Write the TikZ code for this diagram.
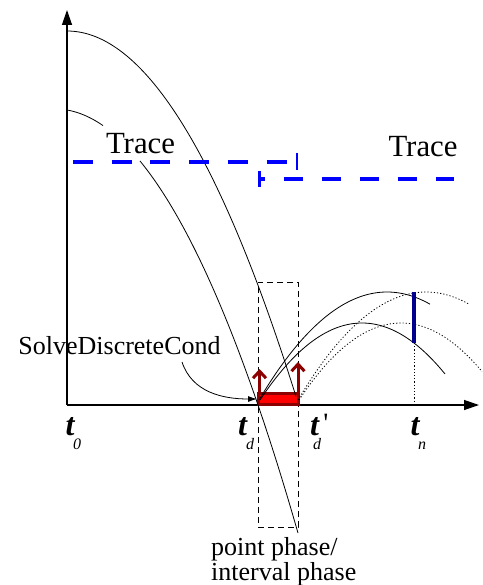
\documentclass[tikz,border=0pt]{standalone}
\usepackage{fontspec}
\setmainfont{Liberation Serif}
\usetikzlibrary{arrows.meta}
\definecolor{darkred}{RGB}{140,0,0}
\definecolor{navyline}{RGB}{0,0,140}
\definecolor{traceblue}{RGB}{0,0,255}
\begin{document}
\begin{tikzpicture}[x=1pt,y=-1pt,
  axisline/.style={line width=1.3pt,-{Triangle[length=15pt,width=10pt]}},
  curve/.style={line width=0.8pt},
  dotcurve/.style={line width=0.8pt,dash pattern=on 1.2pt off 2pt},
  phasebox/.style={draw,line width=0.8pt,dash pattern=on 6pt off 4pt,inner sep=0pt},
  redbox/.style={draw=darkred,fill=red,line width=3pt,inner sep=0pt},
  redarrow/.style={draw=darkred,line width=3pt,-{Straight Barb[length=7pt,width=13pt,line width=3pt]}},
  trace/.style={draw=traceblue,line width=4pt},
  tlabel/.style={font=\fontsize{32}{32}\selectfont\bfseries\itshape,inner sep=0pt,anchor=base},
  sublabel/.style={font=\fontsize{16}{16}\selectfont\itshape,inner sep=0pt,anchor=base},
  primelabel/.style={font=\fontsize{28}{28}\selectfont,inner sep=0pt,anchor=base},
  tracefont/.style={font=\fontsize{30.8}{31}\selectfont,inner sep=0pt,anchor=base},
  labelfont/.style={font=\fontsize{26}{25}\selectfont,inner sep=0pt}
]
\useasboundingbox (0,0) rectangle (482,585);
% axes
\coordinate (O) at (67,405);
\coordinate (ytop) at (67,10);
\coordinate (xend) at (479,405);
\draw[axisline] (O) -- (ytop);
\draw[axisline] (O) -- (xend);
% phase box and red interval box
\node[phasebox,minimum width=40pt,minimum height=245pt] (phase) at (278,404.5) {};
\node[redbox,minimum width=40pt,minimum height=11pt] (rbox) at (278.5,399) {};
% descending curves
\draw[curve] plot[domain=67:296,samples=80] (\x,{31+69.7*((\x-67)/100)^2});
\draw[curve] plot[domain=67:103,samples=20] (\x,{110+71.7*((\x-67)/100)^2+0.175*(\x-67)});
\draw[curve] plot[domain=140:298,samples=60] (\x,{110+71.7*((\x-67)/100)^2+0.175*(\x-67)});
% rising curves
\draw[curve] plot[domain=259:430,samples=60] (\x,{292+65.9*((\x-387)/100)^2});
\draw[curve] plot[domain=260:445,samples=60] (\x,{323+74*((\x-362)/100)^2});
\draw[dotcurve] plot[domain=298:469,samples=60] (\x,{292+65.9*((\x-426)/100)^2});
\draw[dotcurve] plot[domain=299:482,samples=60] (\x,{323+74*((\x-401)/100)^2});
% red arrows
\coordinate (la0) at (259.5,394);
\coordinate (la1) at (259.5,369);
\coordinate (ra0) at (298,394);
\coordinate (ra1) at (298,362);
\draw[redarrow] (la0) -- (la1);
\draw[redarrow] (ra0) -- (ra1);
% traces
\coordinate (tr1s) at (73,162);
\coordinate (tr1e) at (298,162);
\coordinate (tr2s) at (258,179);
\coordinate (tr2e) at (454,179);
\draw[trace,dash pattern=on 20pt off 18.7pt,-{Bar[width=17pt,line width=2.5pt]}] (tr1s) -- (tr1e);
\draw[trace,dash pattern=on 19pt off 19pt,dash phase=14pt,{Bar[width=16pt,line width=2.5pt]}-] (tr2s) -- (tr2e);
% navy measure at t_n
\coordinate (nv0) at (414,292);
\coordinate (nv1) at (414,343);
\coordinate (nv2) at (414,405);
\draw[navyline,line width=3.5pt] (nv0) -- (nv1);
\draw[dotcurve] (nv1) -- (nv2);
% texts
\node[tracefont] (trace1) at (140.5,154) {Trace};
\node[tracefont] (trace2) at (423,157) {Trace};
\node[labelfont,anchor=base] (sdc) at (119.5,354) {SolveDiscreteCond};
\coordinate (sdcfoot) at (182,362);
\draw[line width=0.8pt,-{Latex[length=9pt,width=6pt]}] (sdcfoot) .. controls (192,392) and (222,399) .. (rbox.west);
\node[labelfont,anchor=north west,align=left] (plabel) at (211,537) {point phase/\\interval phase};
% axis labels
\node[tlabel] (t0) at (70,435) {t};
\node[sublabel] (t0s) at (77,449) {0};
\node[tlabel] (td) at (242.5,435) {t};
\node[sublabel] (tds) at (250,449) {d};
\node[tlabel] (tdp) at (314.5,435) {t};
\node[sublabel] (tdps) at (317,449) {d};
\node[primelabel] (prime) at (326,432) {\textquotesingle};
\node[tlabel] (tn) at (415,435) {t};
\node[sublabel] (tns) at (422,449) {n};
\end{tikzpicture}
\end{document}
